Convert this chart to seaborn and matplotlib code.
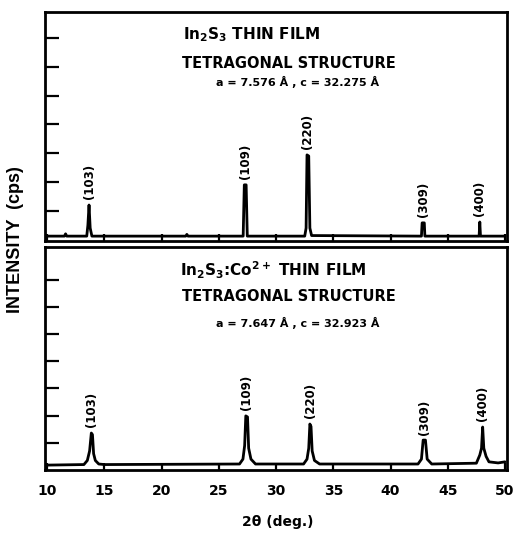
import numpy as np
import pandas as pd
import seaborn as sns
import matplotlib.pyplot as plt

# pattern vertices (2theta in deg, intensity in tick units)
top_x = [10.0, 11.5, 11.6, 11.7, 13.45, 13.55, 13.65, 13.75, 13.9, 22.1, 22.2, 22.3,
         27.12, 27.22, 27.38, 27.48, 32.5, 32.62, 32.7, 32.85, 32.95, 33.1, 42.7,
         42.76, 42.95, 43.0, 47.74, 47.8, 47.86, 50.0]
top_y = [0.12, 0.12, 0.2, 0.12, 0.12, 0.5, 1.2, 0.4, 0.12, 0.12, 0.18, 0.12,
         0.12, 1.9, 1.9, 0.12, 0.12, 0.4, 2.94, 2.9, 0.4, 0.14, 0.12,
         0.58, 0.58, 0.12, 0.12, 0.61, 0.12, 0.12]

bot_x = [10.0, 13.2, 13.5, 13.7, 13.85, 13.95, 14.05, 14.2, 14.5, 15.0, 26.8, 27.1,
         27.25, 27.35, 27.5, 27.6, 27.8, 28.2, 32.4, 32.7, 32.85, 32.95, 33.05, 33.15,
         33.35, 33.8, 42.4, 42.7, 42.85, 43.05, 43.2, 43.6, 47.5, 47.8, 47.95, 48.05,
         48.15, 48.35, 48.6, 49.4, 50.0]
bot_y = [0.18, 0.2, 0.35, 0.7, 1.36, 1.3, 0.6, 0.35, 0.22, 0.2, 0.22, 0.4,
         0.9, 1.99, 1.95, 0.8, 0.4, 0.22, 0.22, 0.4, 0.8, 1.69, 1.6, 0.7,
         0.35, 0.22, 0.22, 0.4, 1.1, 1.1, 0.4, 0.22, 0.25, 0.55, 0.8, 1.58,
         0.8, 0.5, 0.3, 0.26, 0.3]

peak_pos_top = [13.65, 27.3, 32.78, 42.85, 47.8]
peak_pos_bot = [13.9, 27.42, 33.0, 42.95, 48.05]
peak_labels = ["(103)", "(109)", "(220)", "(309)", "(400)"]

sns.set_style("ticks")
plt.rcParams['font.family'] = ['DejaVu Sans']
plt.rcParams['font.weight'] = 'bold'
plt.rcParams['mathtext.fontset'] = 'dejavusans'
plt.rcParams['mathtext.default'] = 'bf'
for k in ['text.color', 'axes.labelcolor', 'xtick.color', 'ytick.color', 'axes.edgecolor']:
    plt.rcParams[k] = 'black'

fig = plt.figure(figsize=(5.2, 5.38), dpi=100)
ax1 = fig.add_axes([0.0865, 0.552, 0.889, 0.4257])
ax2 = fig.add_axes([0.0865, 0.1264, 0.889, 0.4145])

top = pd.DataFrame({"x": top_x, "y": top_y})
bot = pd.DataFrame({"x": bot_x, "y": bot_y})

sns.lineplot(data=top, x="x", y="y", ax=ax1, color="black", lw=2.0,
             estimator=None, sort=False)
sns.lineplot(data=bot, x="x", y="y", ax=ax2, color="black", lw=2.0,
             estimator=None, sort=False)

ax1.set_ylim(-0.05, 7.9)
ax2.set_ylim(0, 8.2)

for ax, df, pos in [(ax1, top, peak_pos_top), (ax2, bot, peak_pos_bot)]:
    ax.set_xlim(9.8, 50.2)
    ax.set_xticks(np.arange(10, 51, 5))
    ax.set_yticks(np.arange(1, 8))
    ax.set_yticklabels([])
    ax.tick_params(axis='y', direction='in', length=10, width=1.6, left=True)
    ax.tick_params(axis='x', direction='in', length=5, width=1.6)
    for s in ax.spines.values():
        s.set_visible(True)
        s.set_linewidth(2.0)
    ax.set_xlabel("")
    ax.set_ylabel("")
    for p, lab in zip(pos, peak_labels):
        near = df[(df.x > p - 0.5) & (df.x < p + 0.5)]
        ax.annotate(lab, (p, near.y.max()), xytext=(0, 4), textcoords="offset points",
                    rotation=90, ha="center", va="bottom", fontsize=8.5, fontweight="bold")

ax1.set_xticklabels([])
ax2.set_xticklabels([str(v) for v in range(10, 51, 5)], fontsize=10, fontweight="bold")
ax2.tick_params(axis='x', pad=10)

ax1.text(0.299, 0.90, r"In$_2$S$_3$ THIN FILM", transform=ax1.transAxes,
         fontsize=11, fontweight="bold", va="center")
ax1.text(0.297, 0.777, "TETRAGONAL STRUCTURE", transform=ax1.transAxes,
         fontsize=10.5, fontweight="bold", va="center")
ax1.text(0.37, 0.694, "a = 7.576 Å , c = 32.275 Å", transform=ax1.transAxes,
         fontsize=8, fontweight="bold", va="center")

ax2.text(0.292, 0.897, r"In$_2$S$_3$:Co$^{2+}$ THIN FILM", transform=ax2.transAxes,
         fontsize=11, fontweight="bold", va="center")
ax2.text(0.297, 0.78, "TETRAGONAL STRUCTURE", transform=ax2.transAxes,
         fontsize=10.5, fontweight="bold", va="center")
ax2.text(0.37, 0.66, "a = 7.647 Å , c = 32.923 Å", transform=ax2.transAxes,
         fontsize=8, fontweight="bold", va="center")

fig.text(0.03, 0.554, "INTENSITY  (cps)", rotation=90, ha="center", va="center",
         fontsize=13, fontweight="bold", family="Liberation Sans")
fig.text(0.535, 0.03, "2θ (deg.)", ha="center", va="center",
         fontsize=10, fontweight="bold")

fig.savefig("out.png", dpi=100)
